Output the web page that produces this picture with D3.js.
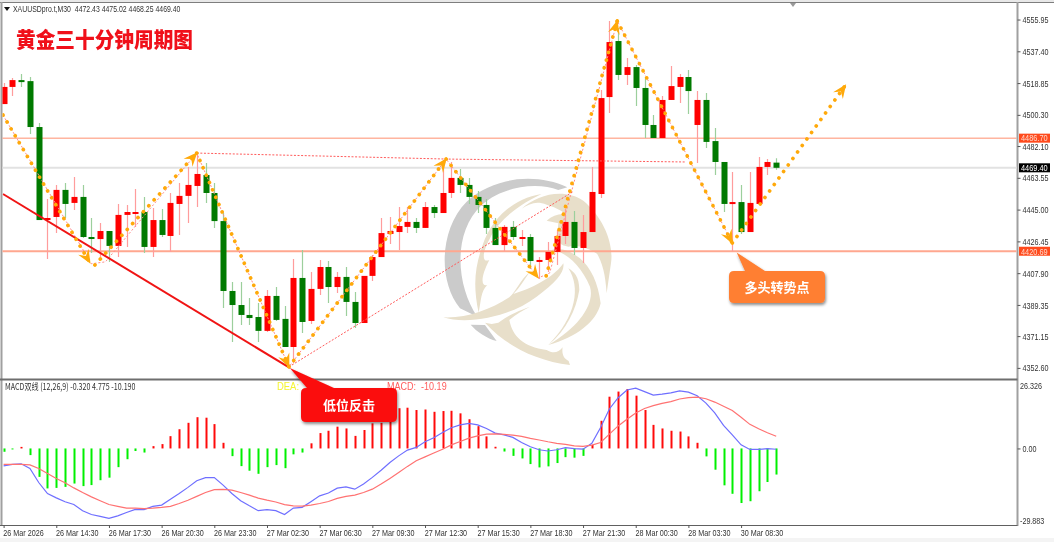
<!DOCTYPE html>
<html><head><meta charset="utf-8">
<script src="https://cdn.jsdelivr.net/npm/d3@7"></script>
<style>
html,body{margin:0;padding:0;background:#fff;overflow:hidden}
svg{display:block;filter:blur(0.35px)}
text{font-family:"Liberation Sans",Arial,sans-serif}
.cjk{font-family:"Noto Sans CJK SC","Noto Sans",sans-serif}
</style></head><body>
<svg id="c" width="1054" height="542"></svg>
<script>
const opens=[4506.6,4516.6,4520.6,4520.0,4493.2,4438.9,4440.7,4456.5,4448.9,4452.4,4429.0,4427.8,4432.5,4423.8,4441.9,4443.0,4443.6,4423.2,4438.9,4429.6,4448.3,4453.0,4458.8,4465.2,4454.7,4438.3,4397.5,4389.3,4383.5,4382.3,4374.2,4394.6,4381.2,4364.8,4405.1,4380.0,4398.7,4411.5,4399.8,4405.7,4391.1,4378.8,4406.3,4417.3,4430.8,4431.9,4434.9,4437.8,4434.3,4446.5,4443.0,4454.7,4463.5,4459.4,4452.4,4447.7,4434.3,4424.3,4434.9,4428.4,4429.0,4415.0,4415.6,4420.3,4429.6,4437.8,4422.6,4431.9,4454.1,4510.7,4543.4,4523.6,4528.2,4516.0,4494.4,4486.8,4509.0,4516.6,4522.4,4494.4,4509.0,4485.0,4472.8,4448.3,4449.4,4431.9,4448.3,4469.9,4472.43];
const highs=[4518.9,4521.8,4524.1,4522.4,4495.5,4451.2,4459.4,4460.5,4464.0,4459.4,4440.1,4437.2,4432.5,4448.3,4447.7,4457.0,4452.4,4445.9,4445.4,4454.7,4460.5,4469.9,4478.6,4472.2,4460.5,4443.0,4402.8,4402.8,4393.4,4390.5,4398.1,4399.8,4388.8,4416.2,4421.4,4408.6,4415.6,4415.0,4408.6,4411.5,4396.9,4406.3,4418.5,4440.1,4440.7,4446.5,4446.5,4440.1,4449.4,4447.7,4474.0,4472.8,4468.7,4463.5,4455.9,4451.2,4440.1,4436.0,4438.3,4433.1,4430.8,4417.3,4426.1,4433.1,4445.4,4444.2,4441.9,4469.9,4514.8,4555.1,4551.0,4533.5,4529.4,4522.4,4500.2,4511.3,4528.8,4524.1,4526.5,4514.2,4513.1,4492.6,4472.8,4466.9,4459.4,4466.9,4475.7,4474.5,4475.02];
const lows=[4506.6,4511.3,4516.6,4489.1,4438.9,4416.2,4431.3,4440.1,4444.8,4428.4,4419.7,4417.3,4414.4,4417.3,4423.2,4434.9,4419.7,4417.3,4429.0,4420.3,4430.2,4437.2,4446.5,4448.9,4434.3,4387.6,4367.7,4377.7,4377.7,4367.7,4373.6,4380.0,4364.8,4355.5,4373.0,4378.2,4395.2,4390.5,4396.3,4382.9,4375.9,4378.8,4403.3,4417.3,4424.9,4421.4,4431.3,4431.3,4434.3,4440.1,4443.0,4451.8,4454.7,4448.3,4443.0,4430.8,4424.3,4420.9,4427.3,4423.8,4410.3,4404.5,4408.6,4412.7,4424.9,4418.5,4413.9,4431.9,4451.8,4501.4,4520.6,4517.7,4505.5,4486.8,4486.8,4486.8,4509.0,4507.2,4500.8,4472.2,4481.0,4465.2,4443.6,4420.69,4430.8,4431.9,4448.3,4465.2,4468.25];
const closes=[4516.6,4520.6,4520.0,4493.2,4438.9,4440.1,4456.5,4448.3,4452.4,4429.0,4428.4,4432.5,4423.8,4441.9,4443.6,4443.6,4423.2,4438.9,4430.2,4448.9,4453.0,4459.4,4465.8,4454.7,4438.3,4397.5,4389.3,4383.5,4381.7,4374.2,4394.6,4380.6,4364.8,4405.1,4379.4,4398.7,4411.5,4399.8,4405.7,4391.1,4378.8,4406.3,4417.3,4431.3,4432.5,4435.4,4437.8,4434.3,4446.5,4443.0,4454.7,4463.5,4459.4,4452.4,4447.7,4434.3,4424.3,4434.9,4429.0,4429.0,4415.0,4415.6,4420.3,4429.6,4437.8,4422.6,4431.9,4455.3,4510.1,4542.8,4523.6,4528.2,4516.0,4494.4,4486.8,4509.0,4517.1,4522.4,4514.2,4509.0,4484.5,4472.8,4448.3,4449.4,4431.9,4448.9,4469.9,4472.8,4469.40];
const hist=[-1.3,-0.3,0.6,-2.6,-11.1,-15.6,-15.4,-15,-13.7,-14.7,-14.3,-12.4,-11.4,-7.3,-4.2,-1,-1.6,0.9,1.7,4.8,7.5,10,12.2,12,9.5,2.2,-3,-6.9,-8.7,-9.9,-7.3,-6.5,-7.7,-2.3,-1.6,2,6,6.9,8.5,7.8,4.9,7.2,9.8,10,11.4,15.7,15.9,15,15.2,14.3,14.6,14.7,13.7,11.4,8.7,4.7,0.65,-1.2,-2.9,-3.9,-6.1,-7.4,-7,-5.7,-3.4,-3.6,-2.9,1.4,10.8,20.2,22.2,23.2,20.6,15,9.2,7.8,6.9,6.6,4.7,2.2,-3.1,-8.3,-14.4,-17.7,-21.3,-20.6,-16.7,-13.1,-10.19];
const dif=[-6.8,-6.2,-6,-7.8,-13.3,-17.6,-19.3,-20.8,-21.9,-24.3,-25.8,-26.5,-27.3,-26.3,-25,-23.8,-23.9,-22.6,-22.1,-19.8,-17.6,-15.2,-12.6,-11.4,-11.4,-14.3,-17.6,-20.4,-22.4,-24.3,-23.9,-24.3,-25.8,-23.3,-23,-20.8,-18.5,-17.4,-15.5,-15,-15.9,-13.9,-11.3,-8.5,-5.5,-2.9,-0.65,0.4,2.6,4.2,6.2,8.1,9.2,9.8,9.2,7.8,6,5.3,4.3,2.3,0.65,-0.5,-1,-0.5,0.3,-0.1,-0.3,2,8.2,15.4,19.8,22.8,23.5,22.2,20.8,21.2,21.7,22.5,22,20.6,17.7,13.9,9,5.3,1.4,-0.4,-0.4,-0.1,-0.32];
const dea=[-6.2,-6.2,-6.2,-6.4,-7.8,-9.8,-11.7,-13.4,-15.4,-17.2,-18.9,-20.4,-21.9,-22.6,-23.3,-23.3,-23.5,-23.3,-23,-22.6,-21.5,-20.2,-18.7,-17.2,-16.1,-16,-16.3,-17.2,-18.2,-19.4,-20.2,-20.9,-21.9,-22.4,-22.5,-22.1,-21.5,-20.7,-19.5,-18.7,-18.2,-17.2,-15.9,-13.9,-11.7,-9.4,-7,-4.8,-3.3,-1.8,-0.3,1.4,2.7,4,4.9,5.6,5.7,5.5,5.2,4.7,3.9,3.3,2.6,2,1.6,1,0.8,1.3,2.3,5.6,8.8,11.4,13.8,15.6,16.7,17.6,18.3,19.3,19.8,20,19.4,18.1,16.5,14.8,12.2,9.4,7.7,6.1,4.775];

const priceTicks=[4555.95,4537.40,4518.85,4500.30,4482.10,4463.55,4445.00,4426.45,4407.90,4389.35,4371.15,4352.60];
const macdTicks=[0];
const timeTickBars=[0,6,12,18,24,30,36,42,48,54,60,66,72,78,84];
const timeTickLabels=["26 Mar 2026","26 Mar 14:30","26 Mar 17:30","26 Mar 20:30","26 Mar 23:30","27 Mar 02:30","27 Mar 06:30","27 Mar 09:30","27 Mar 12:30","27 Mar 15:30","27 Mar 18:30","27 Mar 21:30","28 Mar 00:30","28 Mar 03:30","30 Mar 08:30"];

// annotation anchors: [bar index, price]
const arrowSegments=[
 [[-0.07,4500.2],[9.84,4413.9]],
 [[10.4,4412.7],[22.0,4478.0]],
 [[22.0,4478.0],[32.5,4353.2]],
 [[32.5,4353.2],[50.4,4474.5]],
 [[50.4,4474.5],[60.9,4405.1]],
 [[61.8,4406.3],[69.9,4555.1]],
 [[69.9,4555.1],[83.0,4425.5]],
 [[83.0,4425.5],[95.9,4517.7]]
];
const zigzagLine=[[-0.07,4500.2],[10.0,4413.4],[11.6,4414.5],[22.0,4478.0],[32.5,4353.2],[50.4,4474.5],[60.9,4405.1],[62.2,4408],[69.9,4555.1],[83.0,4425.5]];
const resistLine=[[22.0,4478.0],[36.0,4476.3],[50.5,4474.5],[77.7,4472.8]];
const riseLine=[[32.5,4353.2],[64.8,4455.3]];
const trendLine=[[-0.07,4454.1],[32.6,4352.6]];
const levelLines=[
 {price:4486.70,label:"4486.70",color:"#ff8f70",w:1,bg:"#ff4a1c"},
 {price:4420.69,label:"4420.69",color:"#ffa78f",w:2,bg:"#ff4a1c"},
 {price:4469.40,label:"4469.40",color:"#e2e2e2",w:2,bg:"#000000"}
];

// horizontal squeeze about the text's own x, so its box really narrows
const squeeze=(sel,k)=>sel.each(function(){
 const X=+this.getAttribute("x")||0;
 this.setAttribute("transform",`translate(${X},0) scale(${k},1) translate(${-X},0)`);
});
const svg=d3.select("#c");
const W=1054,H=542,plotRight=1017.5,plotTop=3,mainBot=378,macdTop=381,macdBot=525,plotLeft=2.5;
const x=d3.scaleLinear().domain([0,88]).range([3.6,776.2]);
const y=d3.scaleLinear().domain([4565.6,4346.7]).range([plotTop,mainBot]);
const ym=d3.scaleLinear().domain([26.326,-29.883]).range([macdTop,macdBot]);
const defs=svg.append("defs");
defs.append("clipPath").attr("id","mainClip").append("rect").attr("x",plotLeft).attr("y",plotTop).attr("width",plotRight-plotLeft).attr("height",mainBot-plotTop);
defs.append("marker").attr("id","ah").attr("markerUnits","userSpaceOnUse").attr("markerWidth",16).attr("markerHeight",14)
 .attr("viewBox","-13 -7 16 14").attr("refX",1).attr("refY",0).attr("orient","auto")
 .append("path").attr("d","M2,0 L-12,-6 L-7,0 L-12,6 Z").attr("fill","#ffa90a");
const sh=defs.append("filter").attr("id","sh").attr("x","-20%").attr("y","-20%").attr("width","140%").attr("height","150%");
sh.append("feDropShadow").attr("dx",1).attr("dy",2).attr("stdDeviation",1.6).attr("flood-color","#000").attr("flood-opacity",0.45);

svg.append("rect").attr("width",W).attr("height",H).attr("fill","#fff");
svg.append("rect").attr("y",538).attr("width",W).attr("height",4).attr("fill","#f4f4f4");

// watermark (drawn in a local 3x space)
const wm=svg.append("g").attr("transform","translate(350,130) scale(0.3333)");
wm.append("path").attr("fill","#cbcbcb").attr("d","M652,172 C560,128 430,140 350,215 C270,295 262,450 330,535 L382,560 C320,470 305,310 395,225 C455,170 560,155 625,180 Z M362,584 C380,605 410,625 440,633 L405,585 Z");
const tan="#e8dfca";
[
 "M515,236 C560,195 640,172 700,212 C760,262 792,340 783,400 L770,490 C766,430 757,395 735,360 C700,290 650,240 590,224 C560,212 540,220 515,236 Z",
 "M575,192 C490,205 425,265 398,345 C375,410 368,465 386,548 C394,510 392,485 412,465 C392,470 392,440 418,390 C395,400 396,368 420,325 C440,282 490,232 575,192 Z",
 "M280,562 C350,585 480,562 560,500 C620,455 645,425 640,400 C620,432 560,472 490,492 C510,472 522,450 540,425 C510,450 500,482 478,502 C420,540 350,565 280,562 Z",
 "M405,578 C470,650 560,692 660,705 L656,693 C640,685 635,670 638,652 C625,668 610,672 590,660 C520,650 488,620 478,570 C498,552 520,540 540,530 C490,548 470,560 445,578 L425,582 Z",
 "M595,645 C650,600 678,540 688,480 C688,440 672,425 655,415 C692,470 680,560 595,645 Z",
 "M595,645 C680,622 740,575 752,520 C745,460 722,412 690,385 C660,362 630,352 605,360 C650,365 695,410 720,470 C735,520 690,590 595,645 Z",
 "M590,272 C620,245 660,245 690,275 C720,305 745,345 752,378 C710,350 680,345 655,350 C625,345 620,335 625,280 Z"
].forEach(d=>wm.append("path").attr("fill",tan).attr("d",d));

// frame
svg.append("rect").attr("x",0).attr("y",0).attr("width",W).attr("height",2).attr("fill","#e8e8e8");
const frame=svg.append("g").attr("stroke","#7e7e7e").attr("fill","none");
frame.append("line").attr("x1",0).attr("x2",W).attr("y1",2.5).attr("y2",2.5).attr("stroke-width",1.2);
frame.append("line").attr("x1",1.5).attr("x2",1.5).attr("y1",2).attr("y2",526).attr("stroke-width",2).attr("stroke","#a0a0a0");
frame.append("line").attr("x1",plotRight).attr("x2",plotRight).attr("y1",2).attr("y2",526).attr("stroke-width",2).attr("stroke","#a0a0a0");
frame.append("line").attr("x1",0).attr("x2",plotRight).attr("y1",379.5).attr("y2",379.5).attr("stroke-width",2).attr("stroke","#6e6e6e");
frame.append("line").attr("x1",0).attr("x2",plotRight).attr("y1",525.5).attr("y2",525.5).attr("stroke-width",1).attr("stroke","#606060");

// level lines
const lv=svg.append("g");
lv.selectAll("line").data(levelLines).join("line")
 .attr("x1",plotLeft).attr("x2",plotRight-1).attr("y1",d=>y(d.price)).attr("y2",d=>y(d.price))
 .attr("stroke",d=>d.color).attr("stroke-width",d=>d.w);

// candles
const idx=d3.range(opens.length);
const cg=svg.append("g").attr("clip-path","url(#mainClip)");
const isUp=i=>closes[i]>=opens[i];
cg.selectAll("line.w").data(idx).join("line").attr("class","w")
 .attr("x1",i=>Math.round(x(i))+0.5).attr("x2",i=>Math.round(x(i))+0.5)
 .attr("y1",i=>y(highs[i])).attr("y2",i=>y(lows[i]))
 .attr("stroke",i=>isUp(i)?"#ff9c9c":"#9ccf9c").attr("stroke-width",1.2);
cg.selectAll("rect.b").data(idx).join("rect").attr("class","b")
 .attr("x",i=>Math.round(x(i))-2.5).attr("width",6)
 .attr("y",i=>Math.min(y(opens[i]),y(closes[i])))
 .attr("height",i=>Math.max(2,Math.abs(y(opens[i])-y(closes[i]))))
 .attr("fill",i=>isUp(i)?"#ff0000":"#007a00");

// thin dotted lines
const ln=d3.line().x(d=>x(d[0])).y(d=>y(d[1]));
const ann=svg.append("g").attr("clip-path","url(#mainClip)").attr("fill","none");
ann.append("path").attr("d",ln(zigzagLine)).attr("stroke","#ff8a8a").attr("stroke-width",1).attr("stroke-dasharray","2 2");
[resistLine,riseLine].forEach(p=>ann.append("path").attr("d",ln(p))
 .attr("stroke","#ff5a5a").attr("stroke-width",1).attr("stroke-dasharray","2 1.6"));
// red trend line
ann.append("path").attr("d",ln(trendLine)).attr("stroke","#f01414").attr("stroke-width",2);
// orange arrows
arrowSegments.forEach(s=>{
 ann.append("path").attr("d",ln(s)).attr("stroke","#ffa90a").attr("stroke-width",3.7)
  .attr("stroke-linecap","round").attr("stroke-dasharray","0.1 7.9").attr("marker-end","url(#ah)");
});

// axes
const axisStyle=g=>{g.select(".domain").remove();g.selectAll("line").attr("stroke","#555");
 g.selectAll("text").attr("fill","#333").attr("font-size",9.6);};
svg.append("g").attr("transform",`translate(${plotRight},0)`)
 .call(d3.axisRight(y).tickValues(priceTicks).tickFormat(d3.format(".2f")).tickSize(3).tickPadding(2))
 .call(axisStyle).call(g=>squeeze(g.selectAll("text"),0.75));
svg.append("g").attr("transform",`translate(${plotRight},0)`)
 .call(d3.axisRight(ym).tickValues(macdTicks).tickFormat(d3.format(".2f")).tickSize(3).tickPadding(2))
 .call(axisStyle).call(g=>squeeze(g.selectAll("text"),0.75));
const gx=svg.append("g").attr("transform",`translate(0,${macdBot})`)
 .call(d3.axisBottom(x).tickValues(timeTickBars).tickFormat((d,i)=>timeTickLabels[i]).tickSize(3).tickPadding(1))
 .call(axisStyle);
gx.selectAll("text").attr("text-anchor","start").attr("dx",-1);
squeeze(gx.selectAll("text"),0.75);
const ext=svg.append("g").attr("fill","#333").attr("font-size",9.6);
ext.append("text").attr("x",1020).attr("y",389).text("26.326");
ext.append("text").attr("x",1020).attr("y",524).text("-29.883");
squeeze(ext.selectAll("text"),0.75);

// level labels
const ll=svg.append("g");
ll.selectAll("rect").data(levelLines).join("rect").attr("x",1019).attr("width",31).attr("height",9)
 .attr("y",d=>y(d.price)-4.5).attr("fill",d=>d.bg);
ll.selectAll("text").data(levelLines).join("text").attr("x",1021).attr("y",d=>y(d.price)+3.3)
 .attr("fill",d=>d.bg==="#000000"?"#fff":"#ffd9cc").attr("font-size",9.6).text(d=>d.label);
squeeze(ll.selectAll("text"),0.77);

// MACD
const mg=svg.append("g");
mg.selectAll("rect").data(hist).join("rect")
 .attr("x",(d,i)=>Math.round(x(i))-0.5).attr("width",2)
 .attr("y",d=>Math.min(ym(d),ym(0))).attr("height",d=>Math.max(1,Math.abs(ym(d)-ym(0))))
 .attr("fill",d=>d>=0?"#ff0a0a":"#00f000");
const lm=v=>d3.line().x((d,i)=>x(i)).y(d=>ym(d))(v);
mg.append("path").attr("d",lm(dif)).attr("fill","none").attr("stroke","#6f6fff").attr("stroke-width",1.2);
mg.append("path").attr("d",lm(dea)).attr("fill","none").attr("stroke","#ff7272").attr("stroke-width",1.2);

// header text
svg.append("path").attr("d","M4,7 L10,7 L7,11 Z").attr("fill","#111");
svg.append("path").attr("d","M790,3 L796,3 L793,7 Z").attr("fill","#999");
svg.append("text").attr("x",13).attr("y",12.5).attr("fill","#333").attr("font-size",9.6).attr("xml:space","preserve")
 .text("XAUUSDpro.t,M30  4472.43 4475.02 4468.25 4469.40").call(s=>squeeze(s,0.72));
svg.append("text").attr("class","cjk").attr("x",16).attr("y",46.5).attr("fill","#f0101a").attr("font-size",21).attr("font-weight",900)
 .attr("textLength",177).attr("lengthAdjust","spacingAndGlyphs").text("黄金三十分钟周期图");
svg.append("text").attr("class","cjk").attr("x",5).attr("y",390).attr("fill","#333").attr("font-size",9.6)
 .text("MACD双线 (12,26,9) -0.320 4.775 -10.190").call(s=>squeeze(s,0.74));
svg.append("text").attr("x",277).attr("y",390).attr("fill","#f4f430").attr("font-size",10.5).text("DEA:").call(s=>squeeze(s,0.9));
svg.append("text").attr("x",387).attr("y",390).attr("fill","#ff5c5c").attr("font-size",10.5).attr("xml:space","preserve").text("MACD:  -10.19").call(s=>squeeze(s,0.86));

// callouts
function callout(tipX,tipY,bx,by,bw,bh,t1,t2,fill,label,fs){
 const p=d3.path(),r=5;
 p.moveTo(bx+r,by);p.lineTo(t1,by);p.lineTo(tipX,tipY);p.lineTo(t2,by);
 p.lineTo(bx+bw-r,by);p.quadraticCurveTo(bx+bw,by,bx+bw,by+r);
 p.lineTo(bx+bw,by+bh-r);p.quadraticCurveTo(bx+bw,by+bh,bx+bw-r,by+bh);
 p.lineTo(bx+r,by+bh);p.quadraticCurveTo(bx,by+bh,bx,by+bh-r);
 p.lineTo(bx,by+r);p.quadraticCurveTo(bx,by,bx+r,by);p.closePath();
 svg.append("path").attr("d",p.toString()).attr("fill",fill).attr("filter","url(#sh)");
 svg.append("text").attr("class","cjk").attr("x",bx+bw/2).attr("y",by+bh/2+fs*0.36).attr("text-anchor","middle")
  .attr("fill","#fff").attr("font-weight",700).attr("font-size",fs).text(label);
}
callout(x(32.6),y(4352.6),301,388,96,34,307,334,"#fb0d0d","低位反击",13);
callout(x(83.5),y(4420.0),729,271,96,32,745,765,"#ff7f33","多头转势点",13);
</script>
</body></html>
